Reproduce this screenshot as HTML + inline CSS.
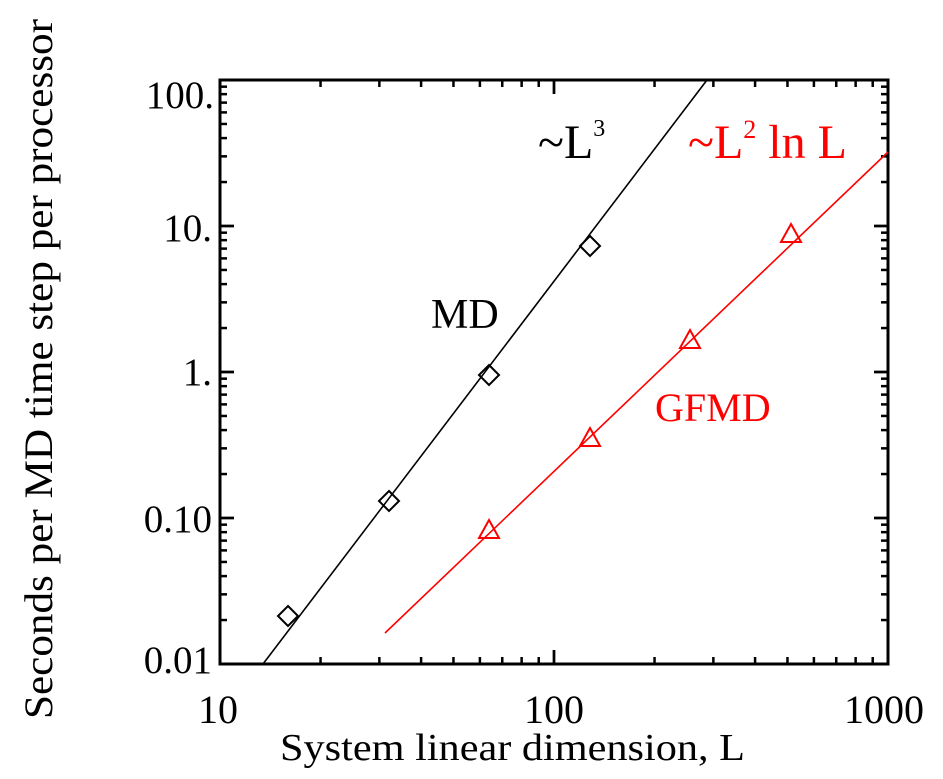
<!DOCTYPE html>
<html><head><meta charset="utf-8"><style>
html,body{margin:0;padding:0;background:#fff;}
svg{display:block;}
text{font-family:"Liberation Serif",serif;}
</style></head><body>
<svg id="s" width="943" height="779" viewBox="0 0 943 779" xmlns="http://www.w3.org/2000/svg">
<g id="ticks" stroke="#000" stroke-width="2.5"></g>
<rect x="220" y="80" width="668" height="584" fill="none" stroke="#000" stroke-width="3"/>
<line x1="263" y1="664" x2="707" y2="80" stroke="#000" stroke-width="1.6"/>
<g fill="none" stroke="#000" stroke-width="2">
<path d="M288 606 l10 10 l-10 10 l-10 -10 z"/>
<path d="M389 491 l10 10 l-10 10 l-10 -10 z"/>
<path d="M489 365 l10 10 l-10 10 l-10 -10 z"/>
<path d="M590 236 l10 10 l-10 10 l-10 -10 z"/>
</g>
<line x1="385" y1="633" x2="888" y2="152" stroke="#f00" stroke-width="1.6"/>
<g fill="none" stroke="#f00" stroke-width="2">
<path d="M489 520 l10 18 l-20 0 z"/>
<path d="M590 428 l10 18 l-20 0 z"/>
<path d="M690 330 l10 18 l-20 0 z"/>
<path d="M791 224 l10 18 l-20 0 z"/>
</g>
<g font-size="39" fill="#000" text-anchor="end">
<text x="214" y="108">100.</text>
<text x="212" y="241">10.</text>
<text x="212" y="385">1.</text>
<text x="212" y="532">0.10</text>
<text x="212" y="673">0.01</text>
</g>
<g font-size="40" fill="#000" text-anchor="middle">
<text x="218" y="723">10</text>
<text x="554" y="723">100</text>
<text x="884" y="723">1000</text>
</g>
<text x="280" y="760" font-size="38" textLength="465" lengthAdjust="spacingAndGlyphs">System linear dimension, L</text>
<text transform="translate(52,719) rotate(-90)" font-size="40" textLength="700" lengthAdjust="spacingAndGlyphs">Seconds per MD time step per processor</text>
<text x="538" y="158" font-size="48">~L<tspan font-size="24" dy="-22">3</tspan></text>
<text x="688" y="158" font-size="48" fill="#f00">~L<tspan font-size="26" dy="-20">2</tspan><tspan dy="20"> ln L</tspan></text>
<text x="431" y="328" font-size="42">MD</text>
<text x="655" y="421" font-size="40" fill="#f00">GFMD</text>
</svg>
<script>
var g=document.getElementById('ticks'),h='';
function X(v){return 220+334*Math.log10(v/10);}
function Y(v){return 80+146*Math.log10(100/v);}
[10,100].forEach(function(d){for(var k=1;k<=10;k++){var v=d*k;if(v>1000)continue;var x=X(v),len=(k==1||k==10)?14:7;
h+='<line x1="'+x+'" y1="664" x2="'+x+'" y2="'+(664-len)+'"/><line x1="'+x+'" y1="80" x2="'+x+'" y2="'+(80+len)+'"/>';}});
[0.01,0.1,1,10].forEach(function(d){for(var k=1;k<=10;k++){var v=d*k;var y=Y(v),len=(k==1||k==10)?14:7;
h+='<line x1="220" y1="'+y+'" x2="'+(220+len)+'" y2="'+y+'"/><line x1="888" y1="'+y+'" x2="'+(888-len)+'" y2="'+y+'"/>';}});
g.innerHTML=h;
</script>
</body></html>
